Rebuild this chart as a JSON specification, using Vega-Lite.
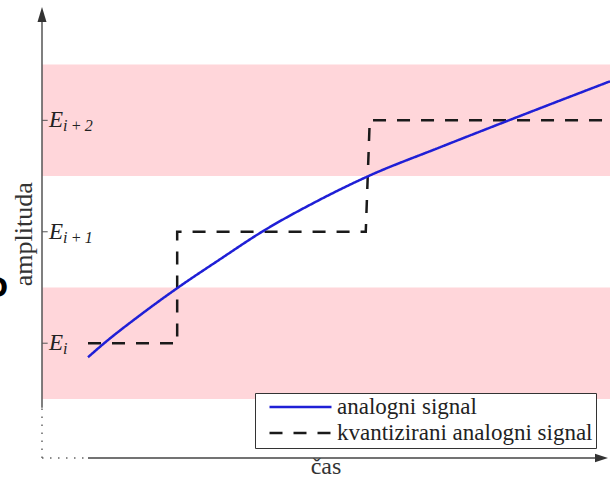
{
  "$schema": "https://vega.github.io/schema/vega-lite/v6.json",
  "width": 568,
  "height": 448,
  "autosize": {"type": "none"},
  "padding": {"left": 42, "top": 10, "right": 0, "bottom": 21},
  "background": "white",
  "config": {
    "view": {"stroke": null},
    "font": "Liberation Serif",
    "legend": {
      "title": null,
      "orient": "none",
      "legendX": 213,
      "legendY": 383,
      "direction": "vertical",
      "symbolType": "stroke",
      "symbolSize": 3844,
      "symbolStrokeWidth": 2.5,
      "clipHeight": 22,
      "rowPadding": 3,
      "padding": 3,
      "symbolOffset": 10,
      "labelOffset": 4,
      "labelFont": "Liberation Serif",
      "labelFontSize": 23,
      "labelColor": "#222",
      "labelLimit": 0,
      "strokeColor": "#333",
      "fillColor": "white",
      "cornerRadius": 0
    }
  },
  "datasets": {
    "bands": [{"lo": 0.5, "hi": 1.5}, {"lo": 2.5, "hi": 3.5}],
    "levels": [
      {"level": 1, "sub": "i"},
      {"level": 2, "sub": "i\u2009+\u20091"},
      {"level": 3, "sub": "i\u2009+\u20092"}
    ],
    "titles": [
      {"name": "čas"}
    ],
    "ytitle": [
      {"name": "amplituda"}
    ],
    "analog": [
      {"series": "analogni signal", "i": 0, "t": 0.81, "a": 0.874},
      {"series": "analogni signal", "i": 1, "t": 1.074, "a": 0.991},
      {"series": "analogni signal", "i": 2, "t": 1.725, "a": 1.251},
      {"series": "analogni signal", "i": 3, "t": 2.377, "a": 1.493},
      {"series": "analogni signal", "i": 4, "t": 3.134, "a": 1.753},
      {"series": "analogni signal", "i": 5, "t": 3.873, "a": 2.0},
      {"series": "analogni signal", "i": 6, "t": 4.806, "a": 2.265},
      {"series": "analogni signal", "i": 7, "t": 5.739, "a": 2.498},
      {"series": "analogni signal", "i": 8, "t": 7.007, "a": 2.758},
      {"series": "analogni signal", "i": 9, "t": 8.239, "a": 3.004},
      {"series": "analogni signal", "i": 10, "t": 10.0, "a": 3.35}
    ],
    "quant": [
      {"series": "kvantizirani analogni signal", "i": 0, "t": 0.81, "a": 1.0},
      {"series": "kvantizirani analogni signal", "i": 1, "t": 2.38, "a": 1.0},
      {"series": "kvantizirani analogni signal", "i": 2, "t": 2.38, "a": 2.0},
      {"series": "kvantizirani analogni signal", "i": 3, "t": 5.7, "a": 2.0},
      {"series": "kvantizirani analogni signal", "i": 4, "t": 5.77, "a": 3.0},
      {"series": "kvantizirani analogni signal", "i": 5, "t": 9.88, "a": 3.0}
    ],
    "one": [{"k": 1}]
  },
  "layer": [
    {
      "data": {"name": "bands"},
      "mark": {"type": "rect", "color": "#ffd6da"},
      "encoding": {
        "x": {
          "datum": 0,
          "type": "quantitative",
          "scale": {"domain": [0, 10], "nice": false, "zero": false},
          "axis": null
        },
        "x2": {"datum": 10},
        "y": {
          "field": "lo",
          "type": "quantitative",
          "scale": {"domain": [-0.03, 3.99], "nice": false, "zero": false},
          "axis": null
        },
        "y2": {"field": "hi"}
      }
    },
    {
      "data": {"name": "one"},
      "mark": {"type": "rule", "color": "#666", "strokeWidth": 1.5, "strokeDash": [1.5, 6.5]},
      "encoding": {
        "x": {"datum": 0, "type": "quantitative", "axis": null},
        "y": {"datum": -0.03, "type": "quantitative", "axis": null},
        "y2": {"datum": 0.42}
      }
    },
    {
      "data": {"name": "one"},
      "mark": {"type": "rule", "color": "#666", "strokeWidth": 1.5, "strokeDash": [1.5, 6.5]},
      "encoding": {
        "y": {"datum": -0.03, "type": "quantitative", "axis": null},
        "x": {"datum": 0, "type": "quantitative", "axis": null},
        "x2": {"datum": 0.81}
      }
    },
    {
      "data": {"name": "one"},
      "mark": {"type": "rule", "color": "#555", "strokeWidth": 1.5},
      "encoding": {
        "x": {"datum": 0, "type": "quantitative", "axis": null},
        "y": {"datum": 0.42, "type": "quantitative", "axis": null},
        "y2": {"datum": 3.93}
      }
    },
    {
      "data": {"name": "one"},
      "mark": {"type": "rule", "color": "#444", "strokeWidth": 1.5},
      "encoding": {
        "y": {"datum": -0.03, "type": "quantitative", "axis": null},
        "x": {"datum": 0.81, "type": "quantitative", "axis": null},
        "x2": {"datum": 9.85}
      }
    },
    {
      "data": {"name": "one"},
      "mark": {"type": "point", "shape": "M0,-1L0.6,1L-0.6,1Z", "filled": true, "color": "#333", "opacity": 1, "size": 225, "clip": false},
      "encoding": {
        "x": {"datum": 0, "type": "quantitative", "axis": null},
        "y": {"datum": 3.95, "type": "quantitative", "axis": null}
      }
    },
    {
      "data": {"name": "one"},
      "mark": {"type": "point", "shape": "M1,0L-1,0.65L-1,-0.65Z", "filled": true, "color": "#333", "opacity": 1, "size": 169, "clip": false},
      "encoding": {
        "x": {"datum": 9.85, "type": "quantitative", "axis": null},
        "y": {"datum": -0.03, "type": "quantitative", "axis": null}
      }
    },
    {
      "data": {"name": "levels"},
      "mark": {"type": "rule", "color": "#555", "strokeWidth": 1},
      "encoding": {
        "x": {"datum": 0, "type": "quantitative", "axis": null},
        "x2": {"datum": 0.1},
        "y": {"field": "level", "type": "quantitative", "axis": null}
      }
    },
    {
      "data": {"name": "levels"},
      "mark": {"type": "text", "text": "E", "font": "Liberation Serif", "fontStyle": "italic", "fontSize": 23, "color": "#222", "align": "left", "baseline": "alphabetic", "dx": 7, "dy": 7},
      "encoding": {
        "x": {"datum": 0, "type": "quantitative", "axis": null},
        "y": {"field": "level", "type": "quantitative", "axis": null}
      }
    },
    {
      "data": {"name": "levels"},
      "mark": {"type": "text", "font": "Liberation Serif", "fontStyle": "italic", "fontSize": 16, "color": "#222", "align": "left", "baseline": "alphabetic", "dx": 21, "dy": 11},
      "encoding": {
        "x": {"datum": 0, "type": "quantitative", "axis": null},
        "y": {"field": "level", "type": "quantitative", "axis": null},
        "text": {"field": "sub"}
      }
    },
    {
      "data": {"name": "quant"},
      "mark": {"type": "line", "strokeWidth": 2.5, "interpolate": "linear"},
      "encoding": {
        "x": {"field": "t", "type": "quantitative", "axis": null},
        "y": {"field": "a", "type": "quantitative", "axis": null},
        "order": {"field": "i"},
        "color": {
          "field": "series",
          "type": "nominal",
          "scale": {"domain": ["analogni signal", "kvantizirani analogni signal"], "range": ["#1f1fd6", "#1a1a1a"]}
        },
        "strokeDash": {
          "field": "series",
          "type": "nominal",
          "scale": {"domain": ["analogni signal", "kvantizirani analogni signal"], "range": [[1, 0], [13, 11]]}
        }
      }
    },
    {
      "data": {"name": "analog"},
      "mark": {"type": "line", "strokeWidth": 2.5, "interpolate": "monotone"},
      "encoding": {
        "x": {"field": "t", "type": "quantitative", "axis": null},
        "y": {"field": "a", "type": "quantitative", "axis": null},
        "order": {"field": "i"},
        "color": {"field": "series", "type": "nominal"},
        "strokeDash": {"field": "series", "type": "nominal"}
      }
    },
    {
      "data": {"name": "titles"},
      "mark": {"type": "text", "font": "Liberation Serif", "fontSize": 24, "color": "#333", "align": "center", "baseline": "alphabetic", "clip": false},
      "encoding": {
        "x": {"datum": 5.0, "type": "quantitative", "axis": null},
        "y": {"datum": -0.1736, "type": "quantitative", "axis": null},
        "text": {"field": "name"}
      }
    },
    {
      "data": {"name": "ytitle"},
      "mark": {"type": "text", "font": "Liberation Serif", "fontSize": 26, "color": "#333", "align": "center", "baseline": "alphabetic", "angle": 270, "clip": false},
      "encoding": {
        "x": {"datum": -0.176, "type": "quantitative", "axis": null},
        "y": {"datum": 1.978, "type": "quantitative", "axis": null},
        "text": {"field": "name"}
      }
    },
    {
      "data": {"name": "one"},
      "mark": {"type": "text", "text": "D", "font": "DejaVu Sans", "fontWeight": "bold", "fontSize": 26, "color": "#000", "align": "right", "baseline": "alphabetic", "clip": false},
      "encoding": {
        "x": {"datum": -0.599, "type": "quantitative", "axis": null},
        "y": {"datum": 1.413, "type": "quantitative", "axis": null}
      }
    }
  ]
}
